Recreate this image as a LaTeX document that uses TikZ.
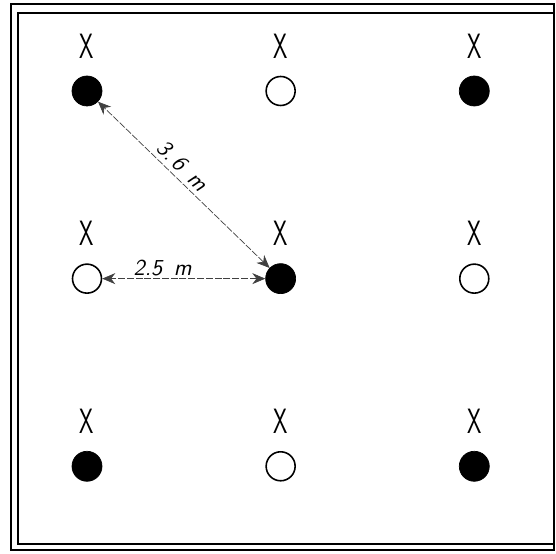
\documentclass[tikz,border=0pt]{standalone}
\usepackage{graphicx}
\usepackage{tikz}
\usetikzlibrary{arrows.meta,positioning}
\tikzset{
  filledspot/.style={circle, draw=black, fill=black, minimum size=6mm, inner sep=0pt},
  openspot/.style={circle, draw=black, line width=0.9pt, fill=white, minimum size=5.8mm, inner sep=0pt},
  crossmark/.style={inner sep=0pt, font=\sffamily\fontsize{20}{20}\selectfont},
  dimline/.style={{Stealth[length=2.6mm,width=2.2mm]}-{Stealth[length=2.6mm,width=2.2mm]},
    thin, draw=black!75, dash pattern=on 4pt off 1pt},
  dimlabel/.style={font=\sffamily\itshape\fontsize{13}{13}\selectfont, inner sep=1.5pt},
  outerframe/.style={draw=black, line width=1.1pt},
  innerframe/.style={draw=black, line width=0.8pt}
}

\begin{document}
\begin{tikzpicture}[x=0.2mm, y=-0.2mm, node distance=31.4mm and 32.6mm]
  \useasboundingbox (0,0) rectangle (556,554);
  \draw[outerframe] (11,4) rectangle (554,550);
  \draw[innerframe] (18,13) rectangle (554,544);
  % spots
  \node[filledspot] (s11) at (87,91) {};
  \node[openspot, right=of s11] (s12) {};
  \node[filledspot, right=of s12] (s13) {};
  \node[openspot, below=of s11] (s21) {};
  \node[filledspot, right=of s21] (s22) {};
  \node[openspot, right=of s22] (s23) {};
  \node[filledspot, below=of s21] (s31) {};
  \node[openspot, right=of s31] (s32) {};
  \node[filledspot, right=of s32] (s33) {};
  % crosses
  \node[crossmark, above=3.4mm of s11] (x11) {\scalebox{0.65}[1]{X}};
  \node[crossmark, above=3.4mm of s12] (x12) {\scalebox{0.65}[1]{X}};
  \node[crossmark, above=3.4mm of s13] (x13) {\scalebox{0.65}[1]{X}};
  \node[crossmark, above=3.4mm of s21] (x21) {\scalebox{0.65}[1]{X}};
  \node[crossmark, above=3.4mm of s22] (x22) {\scalebox{0.65}[1]{X}};
  \node[crossmark, above=3.4mm of s23] (x23) {\scalebox{0.65}[1]{X}};
  \node[crossmark, above=3.4mm of s31] (x31) {\scalebox{0.65}[1]{X}};
  \node[crossmark, above=3.4mm of s32] (x32) {\scalebox{0.65}[1]{X}};
  \node[crossmark, above=3.4mm of s33] (x33) {\scalebox{0.65}[1]{X}};
  % distances
  \draw[dimline] (s22) -- node[dimlabel, above, pos=0.63]{2.5\enspace m} (s21);
  \draw[dimline] (s22) -- node[dimlabel, above=1pt, sloped, pos=0.56]{3.\,6\enspace m} (s11);
\end{tikzpicture}
\end{document}
